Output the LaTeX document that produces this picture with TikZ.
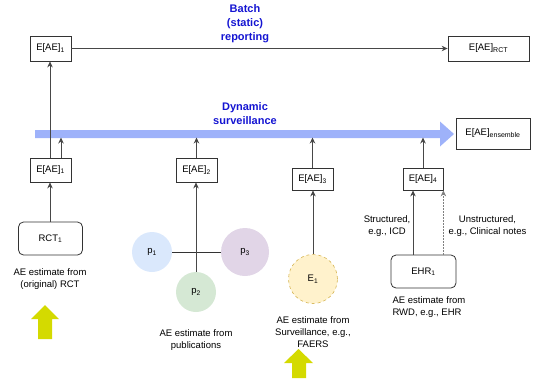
\documentclass[tikz,border=0pt]{standalone}
\usepackage{fontspec}
\setmainfont{Liberation Sans}
\usetikzlibrary{arrows.meta,calc}
\definecolor{bandblue}{RGB}{158,178,250}
\definecolor{titleblue}{RGB}{20,20,210}
\definecolor{yel}{RGB}{212,218,0}
\definecolor{pblue}{HTML}{DAE8FC}
\definecolor{pgreen}{HTML}{D5E8D4}
\definecolor{ppurple}{HTML}{E1D5E7}
\definecolor{eorange}{HTML}{FFF2CC}
\definecolor{eorangeline}{HTML}{D6B656}
\tikzset{
  box/.style={draw=black!80,line width=0.8pt,inner sep=0pt,fill=white},
  rbox/.style={box,rounded corners=5pt},
  conn/.style={draw=black!72,line width=0.8pt,-{Stealth[length=6pt,width=5.5pt]}},
  dotconn/.style={conn,draw=black!50,dash pattern=on 1.5pt off 1.5pt},
  plain/.style={draw=black!80,line width=0.8pt},
  title/.style={align=center,text=titleblue,font=\fontsize{11}{14}\selectfont\bfseries},
  note/.style={align=center,font=\fontsize{9.5}{12}\selectfont},
  circ/.style={circle,inner sep=0pt}
}
\begin{document}
\begin{tikzpicture}[x=1pt,y=-1pt,font=\fontsize{9.5}{12}\selectfont]
\useasboundingbox (0,0) rectangle (533,378);

% blue band arrow
\fill[bandblue] (35,130) -- (440,130) -- (440,121.5) -- (454,134) -- (440,146.5) -- (440,138) -- (35,138) -- cycle;
\coordinate (bandlow) at (0,137.5);

% titles
\node[title] (batch) at (245,24) {Batch\\(static)\\reporting};
\node[title] (dyn) at (245,113.5) {Dynamic\\surveillance};

% boxes
\node[box,minimum width=41pt,minimum height=25pt] (top1) at (50.5,48.5) {E[AE]\textsubscript{1}};
\node[box,minimum width=81pt,minimum height=25pt] (rct) at (488.5,48.5) {E[AE]\textsubscript{\scriptsize RCT}};
\node[box,minimum width=74pt,minimum height=31pt] (ens) at (493,133.5) {E[AE]\textsubscript{\scriptsize ensemble}};
\node[box,minimum width=41pt,minimum height=24pt] (low1) at (50.5,170) {E[AE]\textsubscript{1}};
\node[box,minimum width=41pt,minimum height=24pt] (e2) at (196.5,170) {E[AE]\textsubscript{2}};
\node[box,minimum width=41pt,minimum height=22pt] (e3) at (312.5,179) {E[AE]\textsubscript{3}};
\node[box,minimum width=40pt,minimum height=22pt] (e4) at (423,179) {E[AE]\textsubscript{4}};
\node[rbox,minimum width=64pt,minimum height=33pt] (rct1) at (50.5,238.5) {RCT\textsubscript{1}};
\node[rbox,minimum width=65pt,minimum height=33pt] (ehr) at (423.5,271.5) {EHR\textsubscript{1}};

% circles
\node[circ,fill=pblue,minimum size=40pt] (p1) at (152,252) {p\textsubscript{1}};
\node[circ,fill=ppurple,minimum size=48pt] (p3) at (245,252) {p\textsubscript{3}};
\node[circ,fill=pgreen,minimum size=40pt] (p2) at (196,292) {p\textsubscript{2}};
\node[circ,fill=eorange,draw=eorangeline,dashed,line width=0.6pt,minimum size=49pt] (E1) at (313,279) {E\textsubscript{1}};

% connectors
\draw[conn] (top1.east) -- (rct.west);
\draw[conn] ([xshift=-0.5pt]low1.north) -- ([xshift=-0.5pt]top1.south);
\draw[conn] ([xshift=10.5pt]low1.north) -- ([xshift=10.5pt]low1.north |- bandlow);
\draw[conn] (e2.north) -- (e2.north |- bandlow);
\draw[conn] (e3.north) -- (e3.north |- bandlow);
\draw[conn] (e4.north) -- (e4.north |- bandlow);
\draw[conn] ([xshift=-0.5pt]rct1.north) -- ([xshift=-0.5pt]low1.south);
\draw[plain] (p1.east) -- (p3.west);
\draw[conn] (p2.north) -- ([xshift=-0.5pt]e2.south);
\draw[conn] (E1.north) -- ([xshift=0.5pt]e3.south);
\draw[conn] ([xshift=-10pt]e4.south |- ehr.north) -- ([xshift=-10pt]e4.south);
\draw[dotconn] (e4.south east |- ehr.north) -- (e4.south east);

% labels
\node[note] (lrct) at (50,279) {AE estimate from\\(original) RCT};
\node[note] (lpub) at (196,340.5) {AE estimate from\\publications};
\node[note] (lsur) at (313,332.5) {AE estimate from\\Surveillance, e.g.,\\FAERS};
\node[note,align=left,anchor=west] (lrwd) at (389,307.5) {AE estimate from\\RWD, e.g., EHR};
\node[note] (lstr) at (387,226.5) {Structured,\\e.g., ICD};
\node[note] (lun) at (487.5,226.5) {Unstructured,\\e.g., Clinical notes};

% yellow arrows
\fill[yel] (38,339) -- (38,319) -- (31,319) -- (45,305) -- (59,319) -- (52,319) -- (52,339) -- cycle;
\fill[yel] (292,378) -- (292,363) -- (284,363) -- (298.5,349) -- (313,363) -- (306,363) -- (306,378) -- cycle;
\end{tikzpicture}
\end{document}
